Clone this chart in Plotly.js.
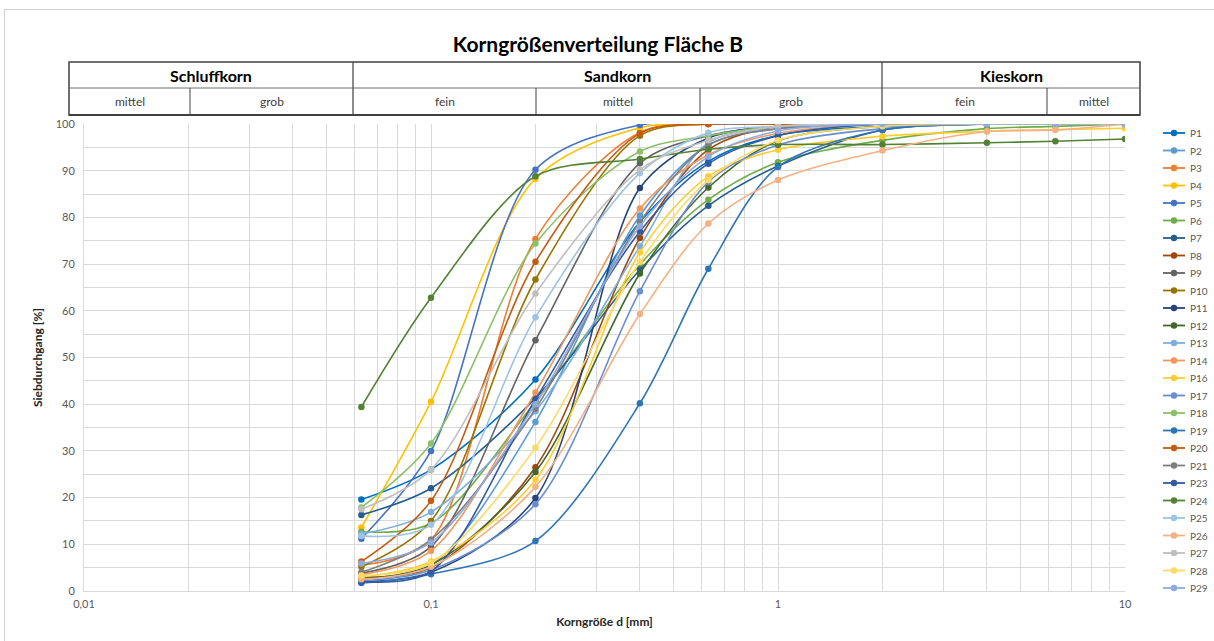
<!DOCTYPE html>
<html><head><meta charset="utf-8">
<script src="https://cdn.plot.ly/plotly-3.0.1.min.js"></script>
<style>
html,body{margin:0;padding:0;background:#fff;}
#chart{width:1214px;height:641px;position:absolute;left:0;top:0;}
#frame{position:absolute;left:4px;top:9px;width:1210px;height:632px;border-left:1px solid #d0d0d0;border-top:1px solid #d0d0d0;box-sizing:border-box;pointer-events:none;}
</style>
</head><body>
<div id="chart"></div><div id="frame"></div>
<script>
// ---- data ----
const sieveSizes = [0.063, 0.1, 0.2, 0.4, 0.63, 1, 2, 4, 6.3, 10];
const xTickVals = [0.01, 0.1, 1, 10];
const xTickText = ['0,01', '0,1', '1', '10'];
const seriesNames = ['P1','P2','P3','P4','P5','P6','P7','P8','P9','P10','P11','P12','P13','P14','P16','P17','P18','P19','P20','P21','P23','P24','P25','P26','P27','P28','P29'];

const P1  = [19.6, 26.0, 45.3, 79.0, 92.0, 97.6, 99.5, 100, 100, 100];
const P2  = [2.8, 5.5, 36.2, 80.4, 95.5, 99.0, 100, 100, 100, 100];
const P3  = [5.5, 11.0, 75.4, 98.2, 100, 100, 100, 100, 100, 100];
const P4  = [13.6, 40.5, 88.3, 99.2, 100, 100, 100, 100, 100, 100];
const P5  = [11.2, 30.0, 90.2, 99.8, 100, 100, 100, 100, 100, 100];
const P6  = [12.7, 14.5, 40.5, 69.9, 83.8, 91.8, 96.5, 99.0, 99.5, 100];
const P7  = [16.3, 22.0, 41.3, 68.8, 82.5, 91.0, 98.7, 100, 100, 100];
const P8  = [3.0, 5.0, 26.5, 75.6, 94.5, 99.5, 100, 100, 100, 100];
const P9  = [3.8, 9.5, 53.7, 91.6, 97.5, 99.5, 100, 100, 100, 100];
const P10 = [5.2, 15.0, 66.7, 97.5, 100, 100, 100, 100, 100, 100];
const P11 = [2.0, 4.0, 19.9, 86.3, 97.0, 99.5, 100, 100, 100, 100];
const P12 = [2.6, 5.6, 25.5, 68.0, 86.4, 96.4, 99.5, 100, 100, 100];
const P13 = [12.2, 16.9, 38.5, 73.8, 96.0, 99.0, 100, 100, 100, 100];
const P14 = [3.5, 8.6, 42.5, 81.9, 93.4, 98.0, 100, 100, 100, 100];
const P16 = [3.0, 6.3, 23.8, 72.5, 88.8, 94.5, 97.4, 98.4, 98.8, 99.1];
const P17 = [2.2, 4.5, 18.6, 64.2, 87.6, 95.5, 99.0, 100, 100, 100];
const P18 = [17.9, 31.6, 74.4, 94.1, 97.5, 99.5, 100, 100, 100, 100];
const P19 = [1.7, 3.6, 10.7, 40.2, 69.0, 90.8, 98.7, 100, 100, 100];
const P20 = [6.3, 19.3, 70.5, 98.0, 100, 100, 100, 100, 100, 100];
const P21 = [4.0, 11.0, 39.0, 79.0, 95.5, 99.0, 100, 100, 100, 100];
const P23 = [2.0, 4.2, 41.0, 77.0, 91.5, 97.5, 100, 100, 100, 100];
const P24 = [39.4, 62.8, 88.8, 92.5, 94.6, 95.6, 95.6, 96.0, 96.3, 96.8];
const P25 = [11.8, 14.2, 58.6, 89.5, 98.1, 99.5, 100, 100, 100, 100];
const P26 = [2.5, 5.2, 22.3, 59.3, 78.7, 88.0, 94.3, 98.4, 98.7, 100];
const P27 = [17.5, 26.0, 63.7, 90.2, 96.5, 99.5, 100, 100, 100, 100];
const P28 = [3.3, 6.0, 30.7, 70.5, 88.0, 96.5, 99.5, 100, 100, 100];
const P29 = [5.9, 10.4, 40.0, 78.1, 93.0, 98.5, 100, 100, 100, 100];

const seriesValues = [P1,P2,P3,P4,P5,P6,P7,P8,P9,P10,P11,P12,P13,P14,P16,P17,P18,P19,P20,P21,P23,P24,P25,P26,P27,P28,P29];

// ---- style ----
const seriesColors = ['#0070C0','#5B9BD5','#ED7D31','#FFC000','#4472C4','#70AD47','#255E91','#9E480E','#636363','#997300','#264478','#43682B','#7CAFDD','#F1975A','#FFCD33','#698ED0','#8CC168','#2E75B6','#C55A11','#7F7F7F','#335AA1','#548235','#9DC3E6','#F4B183','#BFBFBF','#FFD966','#8FAADC'];

const FONT = 'Lato, "Open Sans", "DejaVu Sans", sans-serif';

const traces = seriesNames.map((n, i) => ({
  type: 'scatter', mode: 'lines+markers', name: n,
  x: sieveSizes, y: seriesValues[i],
  line: {color: seriesColors[i], width: 1.6, shape: 'spline', smoothing: 0.9},
  marker: {color: seriesColors[i], size: 6.5},
  showlegend: false
}));

// plot area pixel geometry (for header table and legend placement)
const L = 84, R = 1125, T = 124, B = 591;
const px = x => (x - L) / (R - L);
const py = y => (B - y) / (B - T);

const tTop = 62, tMid = 88, tBot = 115;
const tLeft = 69, tRight = 1140;
const topDiv = [353, 882];
const botDiv = [190, 536, 700, 1047];
const lineCol = '#404040';

const shapes = [];
shapes.push({type:'rect', xref:'paper', yref:'paper', x0:px(tLeft), x1:px(tRight), y0:py(tBot), y1:py(tTop), line:{color:lineCol, width:1.5}});
shapes.push({type:'line', xref:'paper', yref:'paper', x0:px(tLeft), x1:px(tRight), y0:py(tBot), y1:py(tBot), line:{color:lineCol, width:2}});
shapes.push({type:'line', xref:'paper', yref:'paper', x0:px(tLeft), x1:px(tRight), y0:py(tMid), y1:py(tMid), line:{color:'#707070', width:1}});
topDiv.forEach(x => shapes.push({type:'line', xref:'paper', yref:'paper', x0:px(x), x1:px(x), y0:py(tBot), y1:py(tTop), line:{color:lineCol, width:1.2}}));
botDiv.forEach(x => shapes.push({type:'line', xref:'paper', yref:'paper', x0:px(x), x1:px(x), y0:py(tBot), y1:py(tMid), line:{color:lineCol, width:1}}));

const topLabels = ['Schluffkorn', 'Sandkorn', 'Kieskorn'];
const botLabels = ['mittel', 'grob', 'fein', 'mittel', 'grob', 'fein', 'mittel'];
const topEdges = [tLeft, ...topDiv, tRight];
const botEdges = [tLeft, botDiv[0], topDiv[0], botDiv[1], botDiv[2], topDiv[1], botDiv[3], tRight];

const annotations = [];
topLabels.forEach((t, i) => annotations.push({xref:'paper', yref:'paper', x:px((topEdges[i]+topEdges[i+1])/2), y:py((tTop+tMid)/2 + 1), text:'<b>'+t+'</b>', showarrow:false, font:{family:FONT, size:16, color:'#000'}, xanchor:'center', yanchor:'middle'}));
botLabels.forEach((t, i) => annotations.push({xref:'paper', yref:'paper', x:px((botEdges[i]+botEdges[i+1])/2), y:py((tMid+tBot)/2), text:t, showarrow:false, font:{family:FONT, size:12, color:'#404040'}, xanchor:'center', yanchor:'middle'}));

// manual legend (one entry per series)
const legX0 = 1163, legX1 = 1185, legY0 = 133, legStep = 17.5;
seriesNames.forEach((n, i) => {
  const y = legY0 + i * legStep;
  shapes.push({type:'line', xref:'paper', yref:'paper', x0:px(legX0), x1:px(legX1), y0:py(y), y1:py(y), line:{color:seriesColors[i], width:1.8}});
  shapes.push({type:'circle', xref:'paper', yref:'paper', x0:px((legX0+legX1)/2 - 3.2), x1:px((legX0+legX1)/2 + 3.2), y0:py(y + 3.2), y1:py(y - 3.2), fillcolor:seriesColors[i], line:{color:seriesColors[i], width:0}});
  annotations.push({xref:'paper', yref:'paper', x:px(legX1 + 3), y:py(y), text:n, showarrow:false, xanchor:'left', yanchor:'middle', font:{family:FONT, size:10, color:'#595959'}});
});

const minorX = [];
[0.01, 0.1, 1].forEach(d => { for (let k = 2; k <= 9; k++) minorX.push(d * k); });

const layout = {
  width: 1214, height: 641,
  paper_bgcolor: '#fff', plot_bgcolor: '#fff',
  margin: {l: L, r: 1214 - R, t: T, b: 641 - B, autoexpand: false},
  font: {family: FONT, color: '#595959'},
  title: {text: '<b>Korngrößenverteilung Fläche B</b>', font: {family: FONT, size: 21, color: '#000'}, x: 598/1214, xref: 'container', y: 1 - 45/641, yref: 'container', yanchor: 'middle', xanchor: 'center'},
  xaxis: {
    type: 'log', range: [-2, 1], tickmode: 'array', tickvals: xTickVals, ticktext: xTickText,
    showgrid: true, gridcolor: '#d9d9d9', gridwidth: 1, zeroline: false,
    showline: true, linecolor: '#d9d9d9', ticks: '', ticklabelstandoff: 3, tickfont: {size: 11, color: '#595959'},
    minor: {tickmode: 'array', tickvals: minorX, showgrid: true, gridcolor: '#d9d9d9', gridwidth: 1, ticks: ''},
    title: {text: '<b>Korngröße d [mm]</b>', font: {family: FONT, size: 12, color: '#262626'}, standoff: 8}
  },
  yaxis: {
    range: [0, 100], dtick: 10, showgrid: true, gridcolor: '#d9d9d9', zeroline: false,
    showline: true, linecolor: '#d9d9d9', ticks: '', ticklabelstandoff: 6, tickfont: {size: 11, color: '#595959'},
    minor: {dtick: 5, showgrid: true, gridcolor: '#d9d9d9', ticks: ''},
    title: {text: '<b>Siebdurchgang [%]</b>', font: {family: FONT, size: 12, color: '#262626'}, standoff: 10}
  },
  showlegend: false,
  shapes: shapes,
  annotations: annotations
};

Plotly.newPlot('chart', traces, layout, {displayModeBar: false, staticPlot: true});
</script>
</body></html>
